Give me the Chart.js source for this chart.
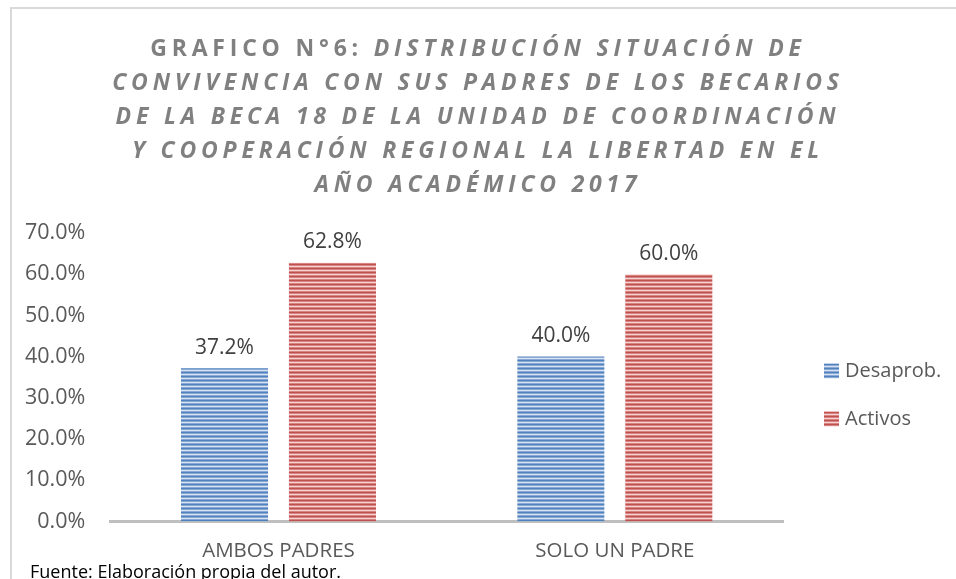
<!DOCTYPE html>
<html>
<head>
<meta charset="utf-8">
<script src="https://cdn.jsdelivr.net/npm/chart.js@4.4.0/dist/chart.umd.min.js"></script>
<style>
  html, body { margin: 0; padding: 0; background: #fff; }
  #wrap { position: relative; width: 956px; height: 579px; overflow: hidden; }
  #frame { position: absolute; left: 10px; top: 7px; right: -5px; bottom: -5px;
    border-top: 2px solid #d9d9d9; border-left: 2px solid #d9d9d9; }
  #title { position: absolute; left: 0; top: 30px; width: 956px; text-align: center;
    font-family: "Open Sans", sans-serif; font-weight: bold; font-size: 23px;
    line-height: 34px; letter-spacing: 4.8px; color: #808080; }
  #title i { font-style: italic; }
  #source { position: absolute; left: 30px; top: 559px; font-family: "Open Sans", sans-serif;
    font-size: 18px; color: #000; white-space: nowrap; }
  canvas { position: absolute; left: 0; top: 0; }
</style>
</head>
<body>
<div id="wrap">
  <div id="frame"></div>
  <canvas id="chart" width="956" height="584"></canvas>
  <div id="title">GRAFICO N°6: <i>DISTRIBUCIÓN SITUACIÓN DE<br>CONVIVENCIA CON SUS PADRES DE LOS BECARIOS<br>DE LA BECA 18 DE LA UNIDAD DE COORDINACIÓN<br>Y COOPERACIÓN REGIONAL LA LIBERTAD EN EL<br>AÑO ACADÉMICO 2017</i></div>
  <div id="source">Fuente: Elaboración propia del autor.</div>
</div>
<script>
const categories = ['AMBOS PADRES', 'SOLO UN PADRE'];
const seriesNames = ['Desaprob.', 'Activos'];
const desaprobValues = [37.2, 40.0];
const activosValues = [62.8, 60.0];

// horizontal striped fill, like the Office pattern fill
function stripes(dark, mid, light) {
  const c = document.createElement('canvas');
  c.width = 4;
  c.height = 4;
  const g = c.getContext('2d');
  g.fillStyle = dark;
  g.fillRect(0, 0, 4, 4);
  g.fillStyle = mid;
  g.fillRect(0, 1, 4, 1);
  g.fillRect(0, 3, 4, 1);
  g.fillStyle = light;
  g.fillRect(0, 2, 4, 1);
  return g.createPattern(c, 'repeat');
}

const bluePattern = stripes('#4f81bd', '#8aaad5', '#d6e1f1');
const redPattern = stripes('#c0504d', '#d88482', '#f2d3d2');

const valueLabels = {
  id: 'valueLabels',
  afterDatasetsDraw(chart) {
    const ctx = chart.ctx;
    ctx.save();
    ctx.font = '21px "Open Sans", sans-serif';
    ctx.fillStyle = '#404040';
    ctx.textAlign = 'center';
    ctx.textBaseline = 'bottom';
    chart.data.datasets.forEach((ds, i) => {
      chart.getDatasetMeta(i).data.forEach((bar, j) => {
        ctx.fillText(ds.data[j].toFixed(1) + '%', bar.x, bar.y - 10);
      });
    });
    ctx.restore();
  }
};

// legend drawn beside the plot, Excel style
const sideLegend = {
  id: 'sideLegend',
  afterDraw(chart) {
    const ctx = chart.ctx;
    const area = chart.chartArea;
    ctx.save();
    ctx.font = '20px "Open Sans", sans-serif';
    ctx.textBaseline = 'middle';
    chart.data.datasets.forEach((ds, i) => {
      const x = area.right + 41;
      const y = area.top + 138 + i * 48;
      ctx.fillStyle = ds.backgroundColor;
      ctx.fillRect(x, y - 7.5, 15, 15);
      ctx.fillStyle = '#595959';
      ctx.fillText(ds.label, x + 21, y);
    });
    ctx.restore();
  }
};

new Chart(document.getElementById('chart'), {
  type: 'bar',
  data: {
    labels: categories,
    datasets: [
      { label: seriesNames[0], data: desaprobValues, backgroundColor: bluePattern, borderWidth: 0 },
      { label: seriesNames[1], data: activosValues, backgroundColor: redPattern, borderWidth: 0 }
    ]
  },
  options: {
    responsive: false,
    animation: false,
    layout: { padding: { top: 233, left: 0, right: 173, bottom: 4 } },
    categoryPercentage: 0.642,
    barPercentage: 0.806,
    plugins: {
      title: { display: false },
      tooltip: { enabled: false },
      legend: { display: false }
    },
    scales: {
      x: {
        grid: { display: false, drawTicks: false },
        border: { color: '#bfbfbf', width: 3 },
        ticks: { color: '#595959', font: { family: '"Open Sans", sans-serif', size: 20.5 }, padding: 17 }
      },
      y: {
        min: 0,
        max: 70,
        grid: { display: false, drawTicks: false },
        border: { display: false },
        ticks: {
          stepSize: 10,
          padding: 25,
          color: '#595959',
          font: { family: '"Open Sans", sans-serif', size: 21.5 },
          callback: v => v.toFixed(1) + '%'
        }
      }
    }
  },
  plugins: [valueLabels, sideLegend]
});
</script>
</body>
</html>
